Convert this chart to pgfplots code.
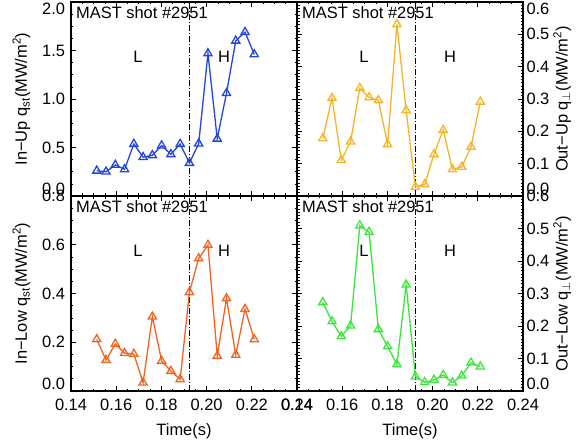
\documentclass[border=0pt]{standalone}
\usepackage{fontspec}
\setmainfont{Liberation Sans}
\usepackage{pgfplots}
\pgfplotsset{compat=1.18}
\usepackage{pgfplotstable}

\pgfplotstableread{
t      inup   outup  inlow  outlow
0.1514 0.26   0.178  0.212  0.273
0.1555 0.25   0.303  0.127  0.214
0.1596 0.32   0.111  0.193  0.168
0.1637 0.275  0.168  0.155  0.201
0.1678 0.536  0.334  0.152  0.509
0.1719 0.40   0.305  0.034  0.489
0.1760 0.42   0.296  0.305  0.190
0.1801 0.52   0.160  0.123  0.137
0.1842 0.43   0.531  0.082  0.082
0.1883 0.536  0.265  0.048  0.327
0.1924 0.34   0.028  0.405  0.044
0.1965 0.54   0.036  0.544  0.027
0.2006 1.47   0.129  0.599  0.034
0.2047 0.59   0.204  0.144  0.049
0.2088 1.06   0.082  0.380  0.026
0.2129 1.60   0.090  0.148  0.047
0.2170 1.69   0.152  0.336  0.087
0.2211 1.46   0.291  0.212  0.075
}\qdata

\definecolor{cblue}{RGB}{35,70,220}
\definecolor{corange}{RGB}{245,180,40}
\definecolor{cred}{RGB}{240,100,35}
\definecolor{cgreen}{RGB}{60,230,60}

\newcommand{\fs}{\fontsize{16.5}{19}\selectfont}

\pgfplotsset{
  panel/.style={
    scale only axis, width=226bp,
    xmin=0.14, xmax=0.24,
    xtick={0.14,0.16,0.18,0.20,0.22,0.24},
    minor x tick num=3,
    xtick pos=both, ytick pos=both,
    tick align=inside,
    major tick length=5bp, minor tick length=2.5bp,
    every tick/.style={black, line width=0.7bp},
    axis line style={line width=1.1bp},
    font=\fs,
    tick label style={font=\fs},
    label style={font=\fs},
    /pgf/number format/assume math mode=true,
    xticklabel style={/pgf/number format/.cd, fixed, fixed zerofill, precision=2, /tikz/.cd, yshift=-5bp},
    yticklabel style={/pgf/number format/.cd, fixed, fixed zerofill, precision=1, /tikz/.cd},
  },
  leftp/.style={
    panel, yticklabel style={xshift=-2.5bp},
    ylabel style={at={(axis description cs:-0.219,0.5)}, anchor=center},
    minor y tick num=3,
  },
  rightp/.style={
    panel, yticklabel pos=right,
    ymin=0, ymax=0.6, ytick={0,0.1,0.2,0.3,0.4,0.5,0.6},
    minor y tick num=9,
    ylabel style={at={(axis description cs:1.173,0.5)}, anchor=center, rotate=0},
  },
  labshift/.style={yticklabel={\ifnum\ticknum=0 \raisebox{7bp}[\height][\depth]{\pgfmathprintnumber{\tick}}\else\ifnum\ticknum=#1 \raisebox{-7bp}[\height][\depth]{\pgfmathprintnumber{\tick}}\else\pgfmathprintnumber{\tick}\fi\fi}},
  ser/.style={line width=1.3bp, mark=triangle, mark size=4.7bp, mark options={solid}},
  vline/.style={black, dash pattern=on 6bp off 2bp on 1bp off 2bp, line width=0.7bp, forget plot},
}

\newcommand{\paneltext}{%
  \node[anchor=north west, inner sep=0pt, font=\fs] at (rel axis cs:0.022,1) [yshift=-4.5bp] {MAST shot \#2951};
  \node[font=\fs] at (rel axis cs:0.296,0.717) {L};
  \node[font=\fs] at (rel axis cs:0.677,0.717) {H};
}

\begin{document}
\begin{tikzpicture}
\useasboundingbox (-71bp,-57bp) rectangle (505bp,391bp);

% upper left
\begin{axis}[leftp, at={(0bp,195bp)}, anchor=south west, height=194bp,
  ymin=0, ymax=2, ytick={0,0.5,1,1.5,2}, xticklabels={},
  labshift=4,
  ylabel={In−Up q\textsubscript{st}(MW/m\textsuperscript{2})}]
\addplot[vline] coordinates {(0.1923,0) (0.1923,2)};
\addplot[ser, cblue] table[x=t, y=inup] {\qdata};
\paneltext
\end{axis}

% upper right
\begin{axis}[rightp, at={(226bp,195bp)}, anchor=south west, height=194bp,
  xticklabels={}, labshift=6,
  ylabel={Out−Up q\textsubscript{$\perp$}(MW/m\textsuperscript{2})}]
\addplot[vline] coordinates {(0.1923,0) (0.1923,0.6)};
\addplot[ser, corange] table[x=t, y=outup] {\qdata};
\paneltext
\end{axis}

% lower left
\begin{axis}[leftp, at={(0bp,0bp)}, anchor=south west, height=195bp,
  ymin=0, ymax=0.8, ytick={0,0.2,0.4,0.6,0.8},
  labshift=99,
  xlabel={Time(s)}, xlabel style={at={(axis description cs:0.5,-0.205)}, anchor=center},
  ylabel={In−Low q\textsubscript{st}(MW/m\textsuperscript{2})}]
\addplot[vline] coordinates {(0.1923,0) (0.1923,0.8)};
\addplot[ser, cred] table[x=t, y=inlow] {\qdata};
\paneltext
\end{axis}

% lower right
\begin{axis}[rightp, at={(226bp,0bp)}, anchor=south west, height=195bp,
  labshift=99,
  xlabel={Time(s)}, xlabel style={at={(axis description cs:0.5,-0.205)}, anchor=center},
  ylabel={Out−Low q\textsubscript{$\perp$}(MW/m\textsuperscript{2})}]
\addplot[vline] coordinates {(0.1923,0) (0.1923,0.6)};
\addplot[ser, cgreen] table[x=t, y=outlow] {\qdata};
\paneltext
\end{axis}
\end{tikzpicture}
\end{document}
